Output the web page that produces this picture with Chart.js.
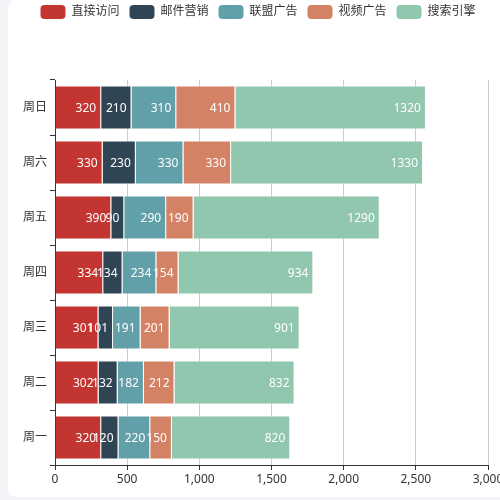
<!DOCTYPE html>
<html>
<head>
<meta charset="utf-8">
<script src="https://cdn.jsdelivr.net/npm/chart.js@4/dist/chart.umd.min.js"></script>
<style>
  html, body { margin: 0; padding: 0; background: #f3f4f8; overflow: hidden; }
  #card { position: absolute; left: 8px; top: 0; width: 500px; height: 497px; background: #fff; border-radius: 8px; }
  #wrap { position: absolute; left: 0; top: -5px; width: 500px; height: 505px; }
</style>
</head>
<body>
<div id="card"></div>
<div id="wrap"><canvas id="grafico"></canvas></div>
<script>
// dados
const dias = ['周一', '周二', '周三', '周四', '周五', '周六', '周日'];
const nomesSeries = ['直接访问', '邮件营销', '联盟广告', '视频广告', '搜索引擎'];
const direto = [320, 302, 301, 334, 390, 330, 320];
const email = [120, 132, 101, 134, 90, 230, 210];
const alianca = [220, 182, 191, 234, 290, 330, 310];
const video = [150, 212, 201, 154, 190, 330, 410];
const busca = [820, 832, 901, 934, 1290, 1330, 1320];
const cores = ['#c23531', '#2f4554', '#61a0a8', '#d48265', '#91c7ae'];

const valores = [direto, email, alianca, video, busca];

const fonte = "'Noto Sans', 'Noto Sans CJK SC', sans-serif";
Chart.defaults.font.family = fonte;
Chart.defaults.font.size = 12;
Chart.defaults.color = '#333';

// rotulos dentro das barras, encostados a direita
const rotulos = {
  id: 'rotulos',
  afterDatasetsDraw(chart) {
    const ctx = chart.ctx;
    ctx.save();
    ctx.fillStyle = '#fff';
    ctx.font = '12px ' + fonte;
    ctx.textAlign = 'right';
    ctx.textBaseline = 'middle';
    chart.data.datasets.forEach((ds, i) => {
      chart.getDatasetMeta(i).data.forEach((el, j) => {
        ctx.fillText(String(ds.data[j]), el.x - 5, el.y + 1);
      });
    });
    ctx.restore();
  }
};

// espaco abaixo da legenda e legenda um pouco para a direita
const margemLegenda = {
  id: 'margemLegenda',
  beforeInit(chart) {
    const fit = chart.legend.fit;
    chart.legend.fit = function () {
      fit.bind(chart.legend)();
      this.height = 85;
    };
  },
  afterLayout(chart) {
    chart.legend.left += 14;
    chart.legend.right += 14;
  }
};

new Chart(document.getElementById('grafico'), {
  type: 'bar',
  data: {
    labels: dias,
    datasets: nomesSeries.map((nome, i) => ({
      label: nome,
      data: valores[i],
      backgroundColor: cores[i],
      borderColor: 'rgba(255,255,255,0.35)',
      borderWidth: 1,
      categoryPercentage: 0.8,
      barPercentage: 1
    }))
  },
  options: {
    indexAxis: 'y',
    responsive: true,
    maintainAspectRatio: false,
    animation: false,
    locale: 'en-US',
    layout: { padding: { left: 0, right: 12, top: 0, bottom: 0 } },
    plugins: {
      tooltip: { enabled: false },
      legend: {
        position: 'top',
        labels: {
          boxWidth: 25,
          boxHeight: 14,
          padding: 10,
          useBorderRadius: true,
          borderRadius: 4,
          color: '#333',
          font: { size: 12 },
          generateLabels(chart) {
            return Chart.defaults.plugins.legend.labels.generateLabels(chart)
              .map(l => Object.assign(l, { lineWidth: 0 }));
          }
        }
      }
    },
    scales: {
      x: {
        stacked: true,
        min: 0,
        max: 3000,
        ticks: { stepSize: 500, padding: 2, color: '#333', font: { size: 12 } },
        grid: { color: '#ccc', tickColor: '#333', tickLength: 5 },
        border: { display: true, color: '#333' },
        afterFit(scale) {
          scale.height = 35;
          scale.paddingLeft = 0;
          scale.paddingRight = 0;
        }
      },
      y: {
        stacked: true,
        reverse: true,
        ticks: { padding: 3, color: '#333', font: { size: 12 } },
        grid: { offset: true, drawOnChartArea: false, tickColor: '#333', tickLength: 5 },
        border: { display: true, color: '#333' },
        afterFit(scale) {
          scale.width = 55;
        }
      }
    }
  },
  plugins: [rotulos, margemLegenda]
});
</script>
</body>
</html>
